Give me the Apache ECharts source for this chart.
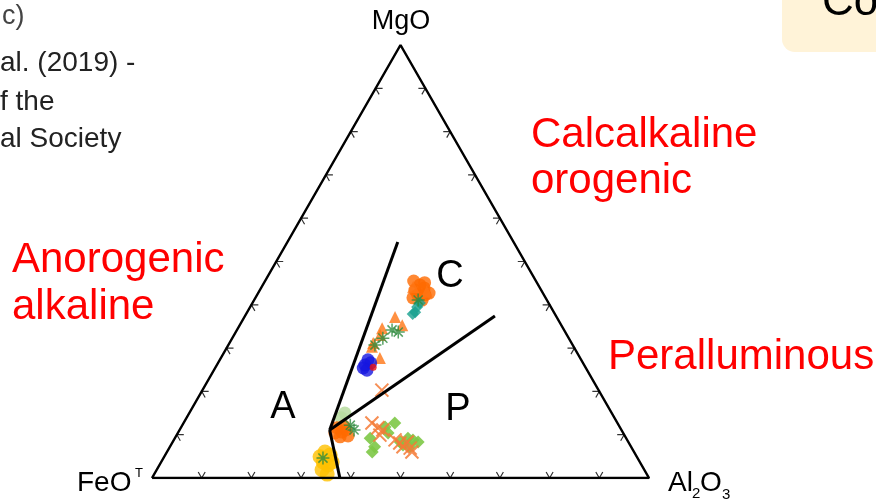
<!DOCTYPE html>
<html>
<head>
<meta charset="utf-8">
<script src="https://cdn.jsdelivr.net/npm/echarts@6/dist/echarts.min.js"></script>
<style>
  html, body { margin: 0; padding: 0; background: #ffffff; }
  #chart { width: 876px; height: 499px; }
</style>
</head>
<body>
<div id="chart"></div>
<script>
// Compositions are stored as [FeO, MgO, Al2O3] in wt% (normalised in code).
const outline = [[100, 0, 0], [0, 0, 100], [0, 100, 0], [100, 0, 0]];
const boundaryBase = [[62.2, 0, 37.8], [58.7, 11.1, 30.2]];
const boundaryAC = [[58.7, 11.1, 30.2], [23.3, 54.5, 22.2]];
const boundaryCP = [[58.7, 11.1, 30.2], [12.3, 37.4, 50.3]];
const tickValues = [10, 20, 30, 40, 50, 60, 70, 80, 90];

const yellowCircles = [
  [62.2, 6.0, 31.8], [61.5, 5.3, 33.2], [63.7, 3.7, 32.6], [63.1, 3.0, 33.9],
  [64.9, 1.9, 33.3], [64.3, 0.9, 34.8], [61.9, 3.7, 34.4], [63.8, 4.9, 31.4]
];
const orangeCircles = [
  [57.0, 11.6, 31.4], [56.5, 10.6, 32.9], [55.4, 11.1, 33.5], [57.4, 9.5, 33.1],
  [55.7, 9.7, 34.6], [58.0, 10.4, 31.6], [55.4, 12.0, 32.6],
  [25.4, 43.4, 31.2], [23.8, 44.6, 31.6], [23.3, 43.9, 32.8], [25.4, 42.3, 32.3],
  [23.9, 42.3, 33.8], [26.7, 41.6, 31.7], [25.1, 41.1, 33.8], [22.6, 45.1, 32.3],
  [24.6, 45.5, 29.9], [22.9, 42.7, 34.4]
];
const orangeTriangles = [
  [32.5, 37.2, 30.3], [36.4, 34.6, 29.0], [37.6, 33.0, 29.4], [39.9, 31.2, 28.9],
  [40.6, 30.3, 29.1], [40.3, 27.7, 32.0], [25.4, 44.1, 30.5], [23.2, 43.0, 33.8],
  [32.0, 35.3, 32.7]
];
const greenStars = [
  [34.6, 34.2, 31.2], [37.4, 32.3, 30.3], [33.6, 33.7, 32.7], [25.9, 41.1, 33.0],
  [39.8, 30.7, 29.5], [54.0, 12.2, 33.8], [53.8, 11.1, 35.1], [63.3, 4.6, 32.1]
];
const tealDiamonds = [
  [27.9, 38.3, 33.8], [28.6, 37.9, 33.5], [26.9, 39.5, 33.6], [25.9, 40.4, 33.7]
];
const blueCircles = [
  [44.1, 26.1, 29.8], [42.9, 27.3, 29.8], [42.7, 26.6, 30.7], [44.8, 25.4, 29.8],
  [44.3, 24.9, 30.8]
];
const redCircles = [[42.7, 25.6, 31.7]];
const limeDiamonds = [
  [44.8, 12.7, 42.5], [47.2, 11.8, 41.0], [51.5, 9.2, 39.3], [51.6, 7.2, 41.2],
  [52.7, 6.0, 41.3], [47.3, 10.4, 42.3], [45.9, 8.3, 45.8], [43.9, 9.2, 46.9],
  [43.1, 8.8, 48.1], [42.3, 8.3, 49.4], [45.7, 7.6, 46.7], [44.5, 7.2, 48.3]
];
const paleGreenCircles = [[53.7, 15.0, 31.3], [55.0, 13.9, 31.1]];
const orangeCrosses = [
  [43.6, 20.3, 36.1], [49.4, 12.7, 37.9], [48.8, 11.6, 39.7], [48.0, 11.1, 40.9],
  [49.2, 9.9, 40.9], [46.7, 8.8, 44.5], [46.1, 8.1, 45.8], [44.5, 8.3, 47.2],
  [44.6, 6.9, 48.5], [44.7, 6.0, 49.3], [45.9, 7.2, 46.9]
];

// ternary composition -> cartesian (x along the base, y = MgO fraction)
function toXY(c) {
  const s = c[0] + c[1] + c[2];
  const mg = c[1] / s, al = c[2] / s;
  return [al + mg / 2, mg];
}
const pts = arr => arr.map(toXY);

// small chevron ticks along each side, arms parallel to the other two sides
const armLen = 0.014;
const tickSegments = [];
tickValues.forEach(v => {
  const t = v / 100;
  // base (FeO - Al2O3)
  tickSegments.push([[t + armLen / 2, armLen], [t, 0], [t - armLen / 2, armLen]]);
  // left side (FeO - MgO)
  const lx = t / 2, ly = t;
  tickSegments.push([[lx + armLen, ly], [lx, ly], [lx + armLen / 2, ly - armLen]]);
  // right side (Al2O3 - MgO)
  const rx = 1 - t / 2, ry = t;
  tickSegments.push([[rx - armLen, ry], [rx, ry], [rx - armLen / 2, ry - armLen]]);
});

const starPath = 'path://M5,0L5,10M0,5L10,5M1.5,1.5L8.5,8.5M8.5,1.5L1.5,8.5';
const crossPath = 'path://M0,0L10,10M10,0L0,10';

function scatter(name, data, symbol, size, style, z) {
  return {
    name, type: 'scatter', data: pts(data), symbol, symbolSize: size,
    itemStyle: style, z: z || 3, silent: true
  };
}
function polyline(data, width, z) {
  return {
    type: 'line', data: pts(data), symbol: 'none', silent: true,
    lineStyle: { color: '#000', width: width }, z: z || 5
  };
}

const font = '"Liberation Sans", Arial, sans-serif';
function label(text, x, y, size, color, align) {
  return {
    type: 'text', x, y, silent: true,
    style: {
      text, fill: color, font: size + 'px ' + font,
      textAlign: align || 'left', textVerticalAlign: 'middle'
    }
  };
}

const chart = echarts.init(document.getElementById('chart'), null, { renderer: 'canvas' });
chart.setOption({
  animation: false,
  backgroundColor: '#ffffff',
  grid: { left: 152, right: 227, top: 45, bottom: 21 },
  xAxis: { type: 'value', min: 0, max: 1, show: false },
  yAxis: { type: 'value', min: 0, max: 1, show: false },
  series: [
    polyline(outline, 2.5, 6),
    polyline(boundaryBase, 3, 7),
    polyline(boundaryAC, 3, 7),
    polyline(boundaryCP, 3, 7),
    {
      type: 'lines', coordinateSystem: 'cartesian2d', polyline: true, silent: true,
      data: tickSegments.map(s => ({ coords: s })),
      lineStyle: { color: '#333', width: 1.2, opacity: 1 }, z: 6
    },
    scatter('yellow', yellowCircles, 'circle', 15, { color: '#FFC000' }),
    scatter('paleGreen', paleGreenCircles, 'circle', 13, { color: '#B7DCA0', opacity: 0.85 }),
    scatter('lime', limeDiamonds, 'diamond', 13, { color: '#7DC846', opacity: 0.9 }),
    scatter('crosses', orangeCrosses, crossPath, 13,
      { color: 'transparent', borderColor: '#F47A36', borderWidth: 2, opacity: 0.85 }, 4),
    scatter('orange', orangeCircles, 'circle', 13, { color: '#FF6A00' }),
    scatter('triangles', orangeTriangles, 'triangle', 12, { color: '#FF7614' }),
    scatter('teal', tealDiamonds, 'diamond', 12, { color: '#16A08E' }),
    scatter('stars', greenStars, starPath, 13,
      { color: 'transparent', borderColor: '#2E8B3E', borderWidth: 1.5 }, 4),
    scatter('blue', blueCircles, 'circle', 13, { color: '#1616E0' }),
    scatter('red', redCircles, 'circle', 7, { color: '#E81010' })
  ],
  graphic: [
    { type: 'rect', silent: true, shape: { x: 782, y: -20, width: 120, height: 72, r: 13 },
      style: { fill: '#FFF3D8' } },
    label('Co', 822, 3, 44, '#000'),
    label('c)', 2, 17, 27, '#444'),
    label('al. (2019) -', 0, 63, 28, '#222'),
    label('f the', 0, 102, 28, '#222'),
    label('al Society', 0, 139, 28, '#222'),
    label('Anorogenic', 12, 260, 42, '#FF0000'),
    label('alkaline', 12, 307, 42, '#FF0000'),
    label('Calcalkaline', 531, 135, 42, '#FF0000'),
    label('orogenic', 531, 181, 42, '#FF0000'),
    label('Peralluminous', 608, 357, 42, '#FF0000'),
    label('C', 450, 277, 38, '#000', 'center'),
    label('A', 283, 408, 38, '#000', 'center'),
    label('P', 458, 410, 38, '#000', 'center'),
    label('MgO', 401, 22, 27, '#000', 'center'),
    label('FeO', 77, 483, 28, '#000'),
    label('T', 135, 473, 13, '#000'),
    label('Al', 668, 483, 28, '#000'),
    label('2', 692, 494, 15, '#000'),
    label('O', 700, 483, 28, '#000'),
    label('3', 722, 495, 15, '#000')
  ]
});
</script>
</body>
</html>
